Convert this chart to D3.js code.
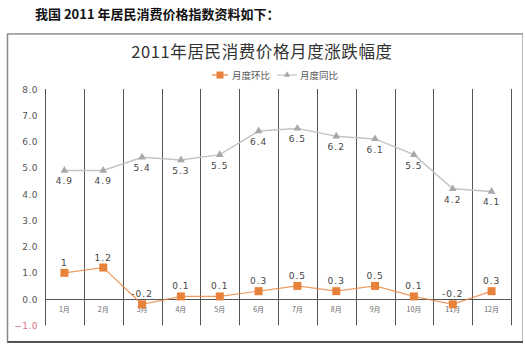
<!DOCTYPE html>
<html><head><meta charset="utf-8">
<script src="https://cdn.jsdelivr.net/npm/d3@7"></script>
<style>
html,body{margin:0;padding:0;background:#fff;}
svg{display:block;}
</style>
</head><body>
<svg id="chart" width="525" height="344"></svg>
<script>
const months = ["1月","2月","3月","4月","5月","6月","7月","8月","9月","10月","11月","12月"];
const momValues = [1, 1.2, -0.2, 0.1, 0.1, 0.3, 0.5, 0.3, 0.5, 0.1, -0.2, 0.3];   // 月度环比
const yoyValues = [4.9, 4.9, 5.4, 5.3, 5.5, 6.4, 6.5, 6.2, 6.1, 5.5, 4.2, 4.1];   // 月度同比
const yTicks = [-1, 0, 1, 2, 3, 4, 5, 6, 7, 8];
const seriesNames = ["月度环比", "月度同比"];

const svg = d3.select("#chart");
const x = d3.scaleBand().domain(months).range([45, 511]).padding(0);
const y = d3.scaleLinear().domain([-1, 8]).range([325.3, 89]);
const cjk = "'Noto Sans CJK SC', 'Noto Sans', sans-serif";
const orange = "#E8823A", grayLine = "#C4C4C4", grayMark = "#A8A8A8";

// header
svg.append("text").attr("x", 35).attr("y", 19)
  .attr("font-family", cjk).attr("font-size", 13).attr("font-weight", "bold").attr("fill", "#111")
  .text("我国 2011 年居民消费价格指数资料如下：");

// outer box
svg.append("rect").attr("x", 7.5).attr("y", 33.5).attr("width", 515).attr("height", 308)
  .attr("fill", "none").attr("stroke", "#bbb").attr("stroke-width", 1);
svg.append("line").attr("x1", 7).attr("x2", 523).attr("y1", 34).attr("y2", 34).attr("stroke", "#999").attr("stroke-width", 1.5);
svg.append("line").attr("x1", 7).attr("x2", 523).attr("y1", 342).attr("y2", 342).attr("stroke", "#222").attr("stroke-width", 1.5);
svg.append("line").attr("x1", 7.5).attr("x2", 7.5).attr("y1", 34).attr("y2", 342).attr("stroke", "#888").attr("stroke-width", 1.5);

// title
svg.append("text").attr("x", 262).attr("y", 58).attr("text-anchor", "middle")
  .attr("font-family", cjk).attr("font-size", 16.5).attr("fill", "#333").attr("letter-spacing", 0.6)
  .text("2011年居民消费价格月度涨跌幅度");

// legend
const lg = svg.append("g").attr("font-family", cjk).attr("font-size", 9.5).attr("fill", "#555");
lg.append("line").attr("x1", 212).attr("x2", 228).attr("y1", 75).attr("y2", 75).attr("stroke", orange).attr("stroke-width", 1.2);
lg.append("rect").attr("x", 216.5).attr("y", 71.5).attr("width", 7).attr("height", 7).attr("fill", orange);
lg.append("text").attr("x", 232).attr("y", 78.5).text(seriesNames[0]);
lg.append("line").attr("x1", 277).attr("x2", 297).attr("y1", 75).attr("y2", 75).attr("stroke", grayLine).attr("stroke-width", 1.2);
lg.append("path").attr("d", d3.symbol(d3.symbolTriangle, 18)()).attr("transform", "translate(287,75)").attr("fill", grayMark);
lg.append("text").attr("x", 300).attr("y", 78.5).text(seriesNames[1]);

// vertical gridlines
const bounds = months.map(m => x(m)).concat([x.range()[1]]);
svg.append("g").selectAll("line").data(bounds).join("line")
  .attr("x1", d => Math.round(d) + 0.5).attr("x2", d => Math.round(d) + 0.5)
  .attr("y1", y(8)).attr("y2", y(-1))
  .attr("stroke", "#555").attr("stroke-width", 1);

// y tick labels
svg.append("g").selectAll("text").data(yTicks).join("text")
  .attr("x", 38).attr("y", d => y(d) + 3.5).attr("text-anchor", "end")
  .attr("font-family", "'DejaVu Sans', sans-serif").attr("font-size", 9).attr("letter-spacing", 0.5)
  .attr("fill", d => d < 0 ? "#D9737F" : "#555")
  .text(d => d3.format(".1f")(d));

// zero line
svg.append("line").attr("x1", 45).attr("x2", 511).attr("y1", Math.round(y(0)) + 0.5).attr("y2", Math.round(y(0)) + 0.5)
  .attr("stroke", "#555").attr("stroke-width", 1.2);

// x labels
svg.append("g").selectAll("text").data(months).join("text")
  .attr("x", d => x(d) + x.bandwidth() / 2).attr("y", y(0) + 13).attr("text-anchor", "middle")
  .attr("font-family", cjk).attr("font-size", 7).attr("fill", "#666")
  .text(d => d);

const cx = (d, i) => x(months[i]) + x.bandwidth() / 2;
const lineGen = d3.line().x((d, i) => cx(d, i)).y(d => y(d));

// 同比 series
svg.append("path").datum(yoyValues).attr("d", lineGen).attr("fill", "none").attr("stroke", grayLine).attr("stroke-width", 1.5);
svg.append("g").selectAll("path").data(yoyValues).join("path")
  .attr("d", d3.symbol(d3.symbolTriangle, 26)())
  .attr("transform", (d, i) => `translate(${cx(d, i)},${y(d)})`).attr("fill", grayMark);
svg.append("g").selectAll("text").data(yoyValues).join("text")
  .attr("x", (d, i) => cx(d, i)).attr("y", d => y(d) + 14).attr("text-anchor", "middle")
  .attr("font-family", "'DejaVu Sans', sans-serif").attr("font-size", 9).attr("letter-spacing", 1).attr("fill", "#444")
  .text(d => d3.format(".1f")(d));

// 环比 series
svg.append("path").datum(momValues).attr("d", lineGen).attr("fill", "none").attr("stroke", orange).attr("stroke-width", 1.2).attr("stroke-opacity", 0.8);
svg.append("g").selectAll("rect").data(momValues).join("rect")
  .attr("x", (d, i) => cx(d, i) - 4).attr("y", d => y(d) - 4).attr("width", 8).attr("height", 8).attr("fill", orange);
svg.append("g").selectAll("text").data(momValues).join("text")
  .attr("x", (d, i) => cx(d, i)).attr("y", d => y(d) - 7).attr("text-anchor", "middle")
  .attr("font-family", "'DejaVu Sans', sans-serif").attr("font-size", 9).attr("letter-spacing", 1).attr("fill", "#444")
  .text(d => String(d));
</script>
</body></html>
